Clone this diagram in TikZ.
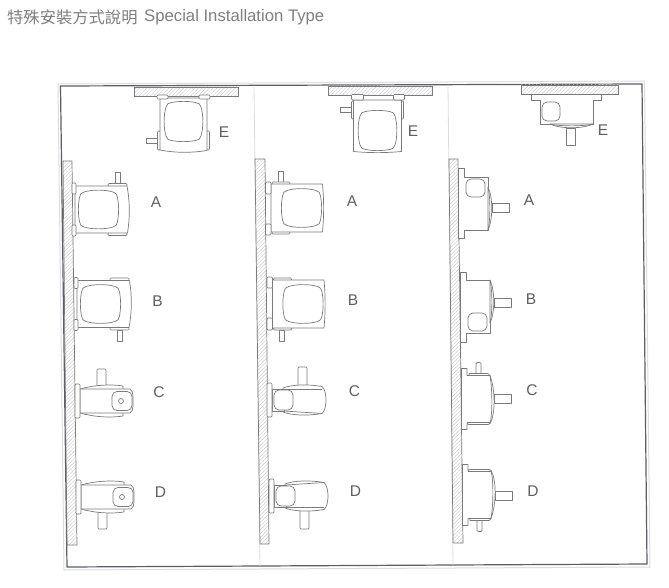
\documentclass[tikz,border=0pt]{standalone}
\usepackage{fontspec}
\setmainfont{Liberation Sans}
\newfontfamily\cjkfont{Noto Sans CJK TC}
\usetikzlibrary{patterns.meta}
\definecolor{linegray}{HTML}{7A7A7A}
\definecolor{framegray}{HTML}{5A5F66}
\definecolor{lightedge}{HTML}{DDDDDD}
\definecolor{labelgray}{HTML}{606060}
\definecolor{titlegray}{HTML}{808080}
\definecolor{hatchgray}{HTML}{CCCCCC}
\tikzset{
  gear/.style={draw=linegray,line width=.7pt,line join=round,fill=white},
  gearline/.style={draw=linegray,line width=.7pt,line join=round},
  wall/.style={draw=linegray,line width=.7pt,pattern={Lines[angle=45,distance=2.6pt,line width=.4pt]},pattern color=hatchgray},
  divider/.style={draw=lightedge,line width=.8pt},
  lab/.style={font=\fontsize{15.5}{16}\selectfont,text=labelgray,inner sep=0pt,anchor=center},
  pics/sqone/.style={code={
    \draw[gear] (40,-37) rectangle (45,-26);
    \draw[gear,rounded corners=1pt] (33,-26) rectangle (52,-23);
    \draw[gear,rounded corners=1pt] (33,23) rectangle (52,26);
    \draw[gear] (0,-23.5) -- (52,-23.5) .. controls (55,-8) and (55,8) .. (52.5,23.5) -- (0,23.5) -- cycle;
    \draw[gear,rounded corners=1pt] (-3,-26.5) rectangle (1,-15.5);
    \draw[gear,rounded corners=1pt] (-3,15.5) rectangle (1,26.5);
    \draw[gearline] (9,-17.5) .. controls (17,-20) and (30,-20) .. (38,-17.5) .. controls (41,-17) and (42,-15) .. (42.5,-12) .. controls (44,-4) and (44,4) .. (42.5,12) .. controls (42,15) and (41,17) .. (38,17.5) .. controls (30,20) and (17,20) .. (9,17.5) .. controls (6,17) and (5,15) .. (4.5,12) .. controls (3,4) and (3,-4) .. (4.5,-12) .. controls (5,-15) and (6,-17) .. (9,-17.5) -- cycle;
  }},
  pics/sqtwo/.style={code={
    \draw[gear] (7,-37) rectangle (12,-26);
    \draw[gear,rounded corners=1pt] (1,-26) rectangle (19,-23.5);
    \draw[gear,rounded corners=1pt] (1,23.5) rectangle (19,26);
    \draw[gear] (0,-24) -- (51.5,-24) .. controls (53,-8) and (53,8) .. (51.5,24) -- (0,24) -- cycle;
    \draw[gear,rounded corners=1pt] (-5.5,-26) rectangle (0,-14);
    \draw[gear,rounded corners=1pt] (-5.5,16) rectangle (0,27);
    \begin{scope}[xshift=7pt]
    \draw[gearline] (9,-17.5) .. controls (17,-20) and (30,-20) .. (38,-17.5) .. controls (41,-17) and (42,-15) .. (42.5,-12) .. controls (44,-4) and (44,4) .. (42.5,12) .. controls (42,15) and (41,17) .. (38,17.5) .. controls (30,20) and (17,20) .. (9,17.5) .. controls (6,17) and (5,15) .. (4.5,12) .. controls (3,4) and (3,-4) .. (4.5,-12) .. controls (5,-15) and (6,-17) .. (9,-17.5) -- cycle;
    \end{scope}
  }},
  pics/sideone/.style={code={
    \draw[gear,rounded corners=1pt] (17,-32) rectangle (26,-14);
    \draw[gear] (0,-12) .. controls (14,-16) and (30,-17) .. (43,-15) -- (43,15) .. controls (30,17) and (14,16) .. (0,12) -- cycle;
    \draw[gear] (0,-12) -- (50,-12) .. controls (52,-11) and (53,-8) .. (53,-5) -- (53,5) .. controls (53,8) and (52,11) .. (50,12) -- (0,12) -- cycle;
    \draw[gearline,rounded corners=5pt] (32,-9.5) rectangle (52,9.5);
    \draw[gearline] (41,0) circle (2.5);
    \draw[gear,rounded corners=1pt] (-5,-17) rectangle (0,17);
  }},
  pics/sidetwo/.style={code={
    \draw[gear,rounded corners=1pt] (26,-33) rectangle (35,-13);
    \draw[gear] (11,-12) .. controls (20,-15.5) and (36,-16) .. (50,-13.5) .. controls (53,-11) and (54,-5) .. (54,0) .. controls (54,5) and (53,11) .. (50,13.5) .. controls (36,16) and (20,15.5) .. (11,12) -- cycle;
    \draw[gear] (0,-11) -- (12,-11) -- (12,11) -- (0,11) -- cycle;
    \draw[gearline] (12,-11) -- (50,-11);
    \draw[gearline] (12,11) -- (50,13.5);
    \draw[gear,rounded corners=5pt] (2,-10) rectangle (21,10);
    \draw[gear,rounded corners=1pt] (-5,-17) rectangle (0,17);
  }},
  pics/secone/.style={code={
    \draw[gear] (34,0) rectangle (51,9);
    \draw[gear] (0,-35) -- (6,-35) -- (6,-26) -- (30,-26) -- (30,27) -- (6,27) -- (6,35) -- (0,35);
    \draw[gear] (30,-16) .. controls (35,-6) and (35,17) .. (30,27) -- cycle;
    \draw[gearline] (30,-16) .. controls (32.5,-6) and (32.5,17) .. (30,27);
    \draw[gearline,rounded corners=5pt] (8,-24) rectangle (27,-6);
    \draw[gearline] (0,-35) -- (0,35);
  }},
  pics/sectwo/.style={code={
    \draw[gear,rounded corners=1pt] (15,-36) rectangle (20,-24);
    \draw[gear] (33,-4.5) rectangle (50,4.5);
    \draw[gear] (0,-30) -- (6,-30) -- (6,-23) -- (8,-23) -- (8,-25) -- (27,-25) -- (29,-23) .. controls (34.5,-8) and (34.5,16) .. (29,25) -- (27,26) -- (8,26) -- (6,25) -- (6,31) -- (0,31);
    \draw[gearline] (29,-23) .. controls (31.5,-8) and (31.5,16) .. (29,25);
    \draw[gearline] (6,-23) -- (29,-23);
    \draw[gearline] (6,24) -- (29,24);
    \draw[gearline] (0,-30) -- (0,31);
  }}
}
\newcommand{\placepic}[4]{\begin{scope}[shift={(#1,#2)},#3]\pic[transform shape]{#4};\end{scope}}
\begin{document}
\begin{tikzpicture}[x=1pt,y=-1pt]
\useasboundingbox (0,0) rectangle (669,588);
\fill[white] (0,0) rectangle (669,588);
% title
\node[anchor=base west,inner sep=0pt,text=titlegray,font=\fontsize{16.3}{17}\selectfont] (title) at (7,23.5) {{\cjkfont 特殊安裝方式說明}};
\node[anchor=base west,inner sep=0pt,text=titlegray,font=\fontsize{16.7}{17}\selectfont] (titleen) at (144,22) {Special Installation Type};
% frame
\draw[draw=lightedge,line width=1pt] (58,84) -- (644.5,81) -- (650,567) -- (64,570) -- cycle;
\draw[draw=framegray,line width=1.2pt,line join=miter] (60.5,86) -- (642,84) -- (647,564) -- (67,567) -- cycle;
% dividers
\draw[divider] (254,87) -- (260,566);
\draw[divider] (448,85) -- (453,565);
% top walls
\draw[wall] (134,87) rectangle (238,96);
\draw[wall] (328,86) rectangle (432,95);
\draw[wall] (521,85) rectangle (618,94);
% side walls
\draw[wall] (63,161) -- (72,161) -- (77,545) -- (67,545) -- cycle;
\draw[wall] (255,159) -- (265,159) -- (269,544) -- (260,544) -- cycle;
\draw[wall] (449,159) -- (458,159) -- (463,543) -- (453,543) -- cycle;
% column 1
\placepic{183.5}{98}{rotate=-90,yscale=-1}{sqone}
\placepic{75}{209.5}{}{sqone}
\placepic{77}{304}{yscale=-1}{sqone}
\placepic{80}{401}{}{sideone}
\placepic{81}{497}{yscale=-1}{sideone}
% column 2
\placepic{377.5}{100}{rotate=-90,yscale=-1}{sqtwo}
\placepic{271}{208}{}{sqtwo}
\placepic{272.5}{304}{yscale=-1}{sqtwo}
\placepic{272}{400}{}{sidetwo}
\placepic{274}{496}{yscale=-1}{sidetwo}
% column 3
\placepic{566}{94}{rotate=-90,yscale=-1}{secone}
\placepic{458}{203}{}{secone}
\placepic{460}{307}{yscale=-1}{secone}
\placepic{461}{398.5}{}{sectwo}
\placepic{462}{495.5}{yscale=-1}{sectwo}
% labels
\node[lab] (e1) at (224,132) {E};
\node[lab] (a1) at (156,202) {A};
\node[lab] (b1) at (157.5,301) {B};
\node[lab] (c1) at (159,392) {C};
\node[lab] (d1) at (160.5,492.5) {D};
\node[lab] (e2) at (413,131) {E};
\node[lab] (a2) at (352,201) {A};
\node[lab] (b2) at (353,300) {B};
\node[lab] (c2) at (354.5,391.5) {C};
\node[lab] (d2) at (355.5,491.5) {D};
\node[lab] (e3) at (603,130) {E};
\node[lab] (a3) at (529,200) {A};
\node[lab] (b3) at (531,299) {B};
\node[lab] (c3) at (532,390) {C};
\node[lab] (d3) at (533,491) {D};
\end{tikzpicture}
\end{document}
